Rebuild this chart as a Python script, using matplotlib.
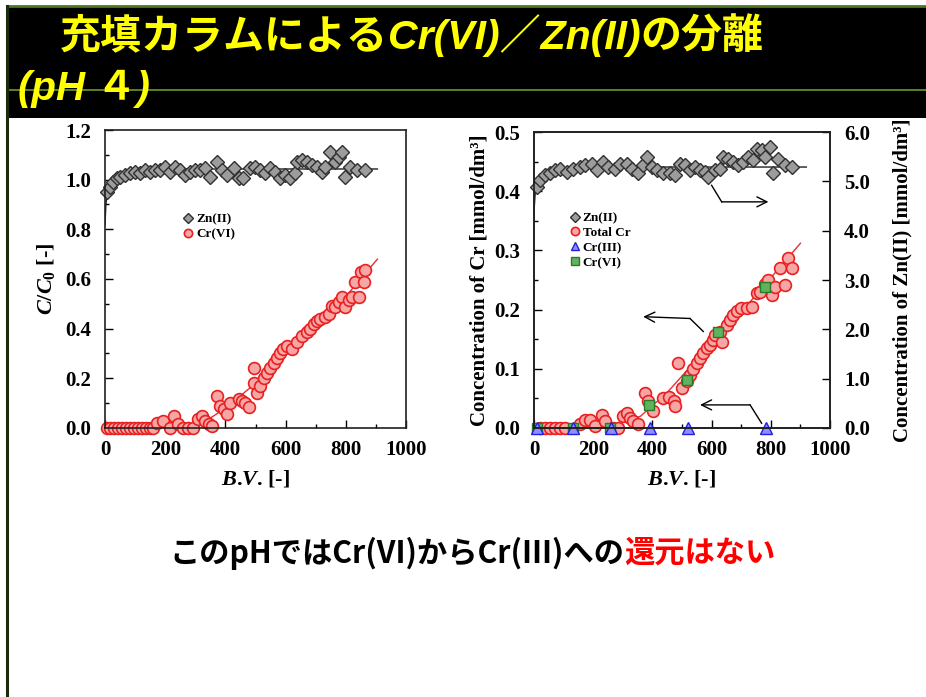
import matplotlib
matplotlib.use("Agg")
import matplotlib.pyplot as plt
from matplotlib.lines import Line2D
from matplotlib.ticker import MultipleLocator, FormatStrFormatter

# ---------------- data ----------------
# left panel : C/C0 vs B.V.
zn_bv = [8, 17, 28, 39, 50, 67, 83, 100, 116, 133, 150, 166, 183, 200, 216, 233, 250, 266,
         283, 300, 316, 333, 349, 372, 388, 405, 427, 444, 460, 482, 499, 516, 532, 549, 566,
         582, 599, 616, 632, 638, 654, 671, 688, 704, 721, 732, 748, 765, 776, 788, 799, 815,
         837, 865]
zn_cc0 = [0.95, 0.97, 0.99, 1.005, 1.01, 1.02, 1.025, 1.03, 1.025, 1.04, 1.03, 1.04, 1.04,
          1.05, 1.03, 1.05, 1.04, 1.02, 1.03, 1.04, 1.04, 1.045, 1.01, 1.07, 1.04, 1.02,
          1.045, 1.005, 1.005, 1.045, 1.05, 1.04, 1.025, 1.045, 1.03, 1.005, 1.02, 1.005,
          1.025, 1.07, 1.08, 1.07, 1.06, 1.05, 1.03, 1.05, 1.11, 1.07, 1.09, 1.11, 1.01,
          1.05, 1.04, 1.04]
zn_fit_bv = [0, 3, 8, 20, 45, 100, 200, 905]
zn_fit_cc0 = [0.82, 0.90, 0.95, 0.99, 1.01, 1.03, 1.043, 1.043]

cr_bv = [5, 18, 31, 44, 57, 70, 83, 96, 109, 122, 135, 148, 160, 172, 194, 216, 230, 244,
         260, 277, 294, 310, 322, 333, 344, 355, 372, 383, 394, 405, 416, 444, 455, 466,
         477, 494, 494, 505, 516, 527, 538, 549, 560, 571, 582, 593, 604, 621, 638, 654,
         671, 682, 693, 704, 715, 732, 743, 754, 765, 777, 788, 799, 810, 821, 832, 843,
         849, 860, 865]
cr_cc0 = [0, 0, 0, 0, 0, 0, 0, 0, 0, 0, 0, 0, 0, 0.02, 0.03, 0.0, 0.05, 0.016, 0, 0, 0,
          0.036, 0.05, 0.03, 0.016, 0.01, 0.13, 0.09, 0.077, 0.057, 0.1, 0.117, 0.11, 0.10,
          0.083, 0.24, 0.18, 0.14, 0.17, 0.2, 0.22, 0.24, 0.26, 0.28, 0.30, 0.32, 0.33,
          0.32, 0.345, 0.37, 0.386, 0.40, 0.42, 0.43, 0.44, 0.447, 0.46, 0.49, 0.487, 0.507,
          0.528, 0.487, 0.514, 0.528, 0.588, 0.528, 0.63, 0.588, 0.635]
cr_fit_bv = [300, 400, 500, 600, 700, 800, 905]
cr_fit_cc0 = [0.0, 0.08, 0.18, 0.30, 0.42, 0.53, 0.68]

# right panel : concentrations
zn2_bv = [9, 20, 37, 54, 71, 88, 110, 133, 155, 172, 195, 212, 234, 251, 274, 291, 313,
          330, 352, 369, 381, 398, 414, 437, 459, 476, 493, 510, 527, 544, 561, 578, 589,
          611, 628, 640, 657, 673, 690, 707, 724, 741, 752, 769, 780, 797, 808, 825, 848, 870]
zn2_conc = [4.89, 5.02, 5.12, 5.16, 5.23, 5.26, 5.19, 5.26, 5.29, 5.33, 5.36, 5.23, 5.39,
            5.29, 5.26, 5.36, 5.36, 5.26, 5.16, 5.33, 5.50, 5.29, 5.23, 5.16, 5.16, 5.12,
            5.36, 5.33, 5.23, 5.29, 5.23, 5.19, 5.09, 5.23, 5.26, 5.50, 5.46, 5.39, 5.33,
            5.39, 5.50, 5.43, 5.66, 5.63, 5.50, 5.70, 5.16, 5.46, 5.33, 5.29]
zn2_fit_bv = [0, 4, 15, 40, 90, 200, 920]
zn2_fit_conc = [4.4, 4.75, 4.95, 5.1, 5.22, 5.29, 5.29]

tcr_bv = [20, 37, 54, 71, 88, 105, 155, 172, 189, 206, 229, 240, 268, 285, 302, 313, 324,
          336, 352, 375, 386, 403, 437, 455, 473, 476, 488, 499, 516, 527, 538, 550, 561,
          572, 583, 595, 606, 611, 628, 634, 651, 662, 673, 685, 701, 718, 735, 752, 764,
          780, 792, 803, 814, 831, 848, 859, 870]
tcr_conc = [0, 0, 0, 0, 0, 0, 0.006, 0.014, 0.014, 0.003, 0.022, 0.011, 0, 0, 0.02, 0.025,
            0.017, 0.011, 0.006, 0.059, 0.045, 0.028, 0.05, 0.053, 0.045, 0.037, 0.11,
            0.067, 0.079, 0.09, 0.10, 0.11, 0.118, 0.126, 0.135, 0.14, 0.149, 0.157, 0.163,
            0.146, 0.174, 0.183, 0.191, 0.197, 0.202, 0.202, 0.205, 0.228, 0.23, 0.244,
            0.25, 0.225, 0.239, 0.27, 0.242, 0.287, 0.27]
tcr_fit_bv = [250, 360, 450, 540, 630, 730, 900]
tcr_fit_conc = [0, 0.02, 0.06, 0.11, 0.163, 0.213, 0.312]

cr3_bv = [11, 131, 259, 392, 521, 784]
cr3_conc = [0, 0, 0, 0, 0, 0]

cr6_bv = [11, 131, 257, 390, 518, 623, 780]
cr6_conc = [0, 0, 0, 0.039, 0.081, 0.163, 0.239]

# arrows of the right panel (B.V., Cr conc): start, bend, head
arrows = [[(600, 0.41), (634, 0.382), (792, 0.382)],
          [(572, 0.163), (527, 0.185), (369, 0.188)],
          [(769, 0.008), (730, 0.039), (561, 0.039)]]

title1 = [("充填カラムによる", False), ("Cr(VI)／Zn(II)", True), ("の分離", False)]
title2 = "(pH ４)"
subtitle = [("このpHではCr(VI)からCr(III)への", "black"), ("還元はない", "#ff0000")]
xlabel = r'$\mathit{B}$.$\mathit{V}$. [-]'

# ---------------- style ----------------
W, H = 926, 697
plt.rcParams['font.family'] = ['Liberation Serif', 'DejaVu Serif']
plt.rcParams['font.weight'] = 'bold'
plt.rcParams['mathtext.fontset'] = 'custom'
plt.rcParams['mathtext.it'] = 'Liberation Serif:italic:bold'
plt.rcParams['mathtext.rm'] = 'Liberation Serif:bold'
plt.rcParams['mathtext.bf'] = 'Liberation Serif:bold'

zn_style = dict(marker='D', ms=7.5, mfc='#9c9c9c', mec='#303030', mew=1.0, ls='none', clip_on=False)
cr_style = dict(marker='o', ms=8.5, mfc='#f7a6a6', mec='#e82020', mew=1.2, ls='none', clip_on=False)
cr3_style = dict(marker='^', ms=8, mfc='#8d8dff', mec='#2020e0', mew=1.0, ls='none', clip_on=False)
cr6_style = dict(marker='s', ms=7.5, mfc='#5fb35f', mec='#2a7a2a', mew=1.0, ls='none', clip_on=False)

fig = plt.figure(figsize=(W / 100, H / 100), dpi=100)
fig.patch.set_facecolor('white')


def style_axis(ax):
    ax.tick_params(which='both', direction='in', labelsize=15, width=1)
    ax.tick_params(which='major', length=6)
    ax.tick_params(which='minor', length=3)
    ax.tick_params(axis='x', pad=9)
    ax.tick_params(axis='y', pad=10)
    for s in ax.spines.values():
        s.set_linewidth(1.2)
        s.set_color('#202020')
    for lab in ax.get_xticklabels() + ax.get_yticklabels():
        lab.set_fontweight('bold')


# ---------------- left panel ----------------
ax1 = fig.add_axes([105 / W, 1 - 428 / H, 301 / W, 298 / H])
ax1.plot(zn_fit_bv, zn_fit_cc0, color='#202020', lw=1.0)
ax1.plot(cr_fit_bv, cr_fit_cc0, color='#e83030', lw=1.0)
ax1.plot(zn_bv, zn_cc0, label='Zn(II)', **zn_style)
ax1.plot(cr_bv, cr_cc0, label='Cr(VI)', **cr_style)
ax1.set_xlim(0, 1000)
ax1.set_ylim(0, 1.2)
ax1.xaxis.set_major_locator(MultipleLocator(200))
ax1.xaxis.set_minor_locator(MultipleLocator(100))
ax1.yaxis.set_major_locator(MultipleLocator(0.2))
ax1.yaxis.set_minor_locator(MultipleLocator(0.1))
ax1.yaxis.set_major_formatter(FormatStrFormatter('%.1f'))
style_axis(ax1)
ax1.set_xlabel(xlabel, fontsize=16, fontweight='bold', labelpad=6)
ax1.set_ylabel(r'$C/C_0$ [-]', fontsize=16, fontweight='bold', labelpad=6)
ax1.legend(loc='upper left', bbox_to_anchor=(0.22, 0.76), frameon=False,
           prop={'size': 9.5, 'weight': 'bold'}, handletextpad=0.2,
           labelspacing=0.2, handlelength=0.8, markerscale=0.7)

# ---------------- right panel ----------------
ax2 = fig.add_axes([534 / W, 1 - 428 / H, 296 / W, 296 / H])
ax3 = ax2.twinx()
ax2.plot(tcr_fit_bv, tcr_fit_conc, color='#e83030', lw=1.0)
h_tcr, = ax2.plot(tcr_bv, tcr_conc, label='Total Cr', **cr_style)
h_cr6, = ax2.plot(cr6_bv, cr6_conc, label='Cr(VI)', **cr6_style)
h_cr3, = ax2.plot(cr3_bv, cr3_conc, label='Cr(III)', **cr3_style)
ax3.plot(zn2_fit_bv, zn2_fit_conc, color='#202020', lw=1.0)
h_zn, = ax3.plot(zn2_bv, zn2_conc, label='Zn(II)', **zn_style)

ax2.set_xlim(0, 1000)
ax2.set_ylim(0, 0.5)
ax3.set_ylim(0, 6.0)
ax2.xaxis.set_major_locator(MultipleLocator(200))
ax2.xaxis.set_minor_locator(MultipleLocator(100))
ax2.yaxis.set_major_locator(MultipleLocator(0.1))
ax2.yaxis.set_minor_locator(MultipleLocator(0.05))
ax2.yaxis.set_major_formatter(FormatStrFormatter('%.1f'))
ax3.yaxis.set_major_locator(MultipleLocator(1.0))
ax3.yaxis.set_major_formatter(FormatStrFormatter('%.1f'))
style_axis(ax2)
style_axis(ax3)
ax2.set_xlabel(xlabel, fontsize=16, fontweight='bold', labelpad=6)
ax2.set_ylabel('Concentration of Cr [mmol/dm³]', fontsize=15, fontweight='bold', labelpad=3)
ax3.set_ylabel('Concentration of Zn(II) [mmol/dm³]', fontsize=15, fontweight='bold', labelpad=16)

for start, bend, head in arrows:
    ax2.plot([start[0], bend[0]], [start[1], bend[1]], color='black', lw=1.0)
    ax2.annotate('', xy=head, xytext=bend,
                 arrowprops=dict(arrowstyle='->', color='black', lw=1.0,
                                 mutation_scale=18, shrinkA=0, shrinkB=0))

ax3.legend([h_zn, h_tcr, h_cr3, h_cr6], ['Zn(II)', 'Total Cr', 'Cr(III)', 'Cr(VI)'],
           loc='upper left', bbox_to_anchor=(0.08, 0.77), frameon=False,
           prop={'size': 9.5, 'weight': 'bold'}, handletextpad=0.2,
           labelspacing=0.2, handlelength=0.8, markerscale=0.7)

# ---------------- banner ----------------
fig.patches.append(plt.Rectangle((7 / W, 1 - 118 / H), 1 - 7 / W, 112 / H,
                                 transform=fig.transFigure, facecolor='black',
                                 edgecolor='none', zorder=0))
fig.add_artist(Line2D([7 / W, 1], [1 - 6 / H, 1 - 6 / H], color='#4a7a1a', lw=2))
fig.add_artist(Line2D([7 / W, 1], [1 - 90 / H, 1 - 90 / H], color='#6a9a2a', lw=1.2))
fig.add_artist(Line2D([7 / W, 7 / W], [0, 1 - 6 / H], color='#1a2a0a', lw=2.2))

renderer = fig.canvas.get_renderer()
x = 60
for s, ital in title1:
    if ital:
        t = fig.text(x / W, 1 - 36 / H, s, color='#ffff00', fontsize=29.5, fontweight='bold',
                     style='italic', family=['Liberation Sans', 'Noto Sans CJK JP'],
                     va='center', ha='left', zorder=5)
    else:
        t = fig.text(x / W, 1 - 36 / H, s, color='#ffff00', fontsize=29.5, fontweight='bold',
                     family=['Noto Sans CJK JP'], va='center', ha='left', zorder=5)
    x += t.get_window_extent(renderer=renderer).width
fig.text(18 / W, 1 - 89 / H, title2, color='#ffff00', fontsize=29, fontweight='bold',
         style='italic', family=['Liberation Sans', 'Noto Sans CJK JP'],
         va='center', ha='left', zorder=5)

# ---------------- subtitle ----------------
x = 169
for s, col in subtitle:
    t = fig.text(x / W, 1 - 553 / H, s, color=col, fontsize=21.8, fontweight='bold',
                 family=['Noto Sans CJK JP'], va='center', ha='left')
    x += t.get_window_extent(renderer=renderer).width

fig.savefig('out.png', dpi=100, facecolor='white')
